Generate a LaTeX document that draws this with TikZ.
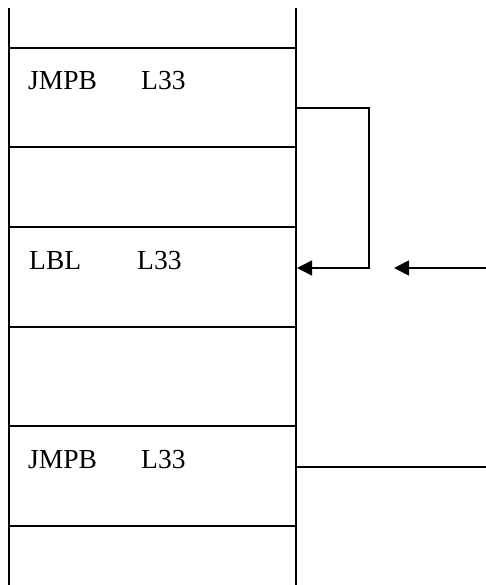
\documentclass[tikz,border=0pt]{standalone}
\usepackage{fontspec}
\setmainfont{Liberation Serif}
\usetikzlibrary{arrows.meta}
\begin{document}
\begin{tikzpicture}[x=1pt,y=-1pt,
  rail/.style={line width=2.2pt},
  rung/.style={line width=1.6pt},
  conn/.style={line width=1.6pt},
  arr/.style={conn,-{Triangle[length=15pt,width=15pt]}},
  lbl/.style={anchor=base west,inner sep=0pt,font=\fontsize{27.5}{30}\selectfont}]
\useasboundingbox (0,0) rectangle (486,585);
% rails
\coordinate (lt) at (9,8); \coordinate (lb) at (9,585);
\coordinate (rt) at (296,8); \coordinate (rb) at (296,585);
\draw[rail] (lt) -- (lb);
\draw[rail] (rt) -- (rb);
% rungs
\foreach \y in {48,147,227,327,426,526}
  \draw[rung] (9,\y) -- (296,\y);
% texts
\node[lbl] (t1a) at (28,90) {JMPB};
\node[lbl] (t1b) at (141,90) {L33};
\node[lbl] (t2a) at (29,269) {LBL};
\node[lbl] (t2b) at (137,269) {L33};
\node[lbl] (t3a) at (28,468) {JMPB};
\node[lbl] (t3b) at (141,468) {L33};
% connectors
\coordinate (j1) at (296,108);
\coordinate (c1) at (369,108);
\coordinate (c2) at (369,268);
\coordinate (target) at (297,268);
\draw[arr] (j1) -- (c1) -- (c2) -- (target);
\coordinate (fromR) at (486,268);
\coordinate (tip2) at (394,268);
\draw[arr] (fromR) -- (tip2);
\coordinate (j3) at (296,467);
\coordinate (outR) at (486,467);
\draw[conn] (j3) -- (outR);
\end{tikzpicture}
\end{document}
